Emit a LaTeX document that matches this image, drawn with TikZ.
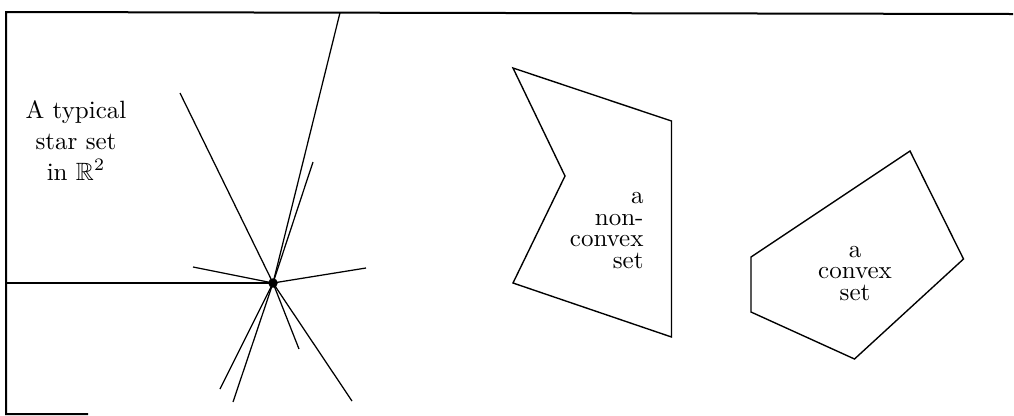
\documentclass[tikz,border=0pt]{standalone}
\usepackage{amssymb}
\begin{document}
\begin{tikzpicture}[x=0.4pt,y=-0.4pt,
  ray/.style={line width=0.5pt},
  frame/.style={line width=0.8pt},
  poly/.style={line width=0.55pt, line join=miter},
  dotnode/.style={circle, fill=black, inner sep=0pt, minimum size=3.8pt},
  lbl/.style={inner sep=0pt, font=\fontsize{10}{8.6}\selectfont}]
\useasboundingbox (0,0) rectangle (1014,415);
% frame
\coordinate (tl) at (6,12);
\coordinate (tr) at (1013,14);
\coordinate (bl) at (6,414);
\coordinate (br) at (88,414);
\draw[frame] (tr) -- (tl) -- (bl) -- (br);
% star set
\node[dotnode] (c) at (273,283) {};
\coordinate (L) at (6,283);
\coordinate (r1) at (340,12.7);
\coordinate (r2) at (180,93);
\coordinate (r3) at (313,162);
\coordinate (r4) at (193,267);
\coordinate (r5) at (366,268);
\coordinate (r6) at (299,349);
\coordinate (r7) at (220,389);
\coordinate (r8) at (233,402);
\coordinate (r9) at (352,401);
\draw[frame] (L) -- (c.center);
\foreach \r in {r1,r2,r3,r4,r5,r6,r7,r8,r9}
  \draw[ray] (c.center) -- (\r);
\node[inner sep=0pt, align=center, anchor=base, font=\fontsize{10}{12.4}\selectfont] (startxt) at (76,180)
  {A typical\\star set\\in $\mathbb{R}^2$};
% non-convex set
\coordinate (n1) at (513,68);
\coordinate (n2) at (671.5,121);
\coordinate (n3) at (671.5,337);
\coordinate (n4) at (513,283);
\coordinate (n5) at (565,176);
\draw[poly] (n1) -- (n2) -- (n3) -- (n4) -- (n5) -- cycle;
\node[lbl, align=right, anchor=base east] (nctxt) at (644,268.3) {a\\non-\\convex\\set};
% convex set
\coordinate (v1) at (751,257);
\coordinate (v2) at (910,151);
\coordinate (v3) at (963.5,259);
\coordinate (v4) at (854.5,359);
\coordinate (v5) at (751,312);
\draw[poly] (v1) -- (v2) -- (v3) -- (v4) -- (v5) -- cycle;
\node[lbl, align=center, anchor=base] (ctxt) at (855,300) {a\\convex\\set};
\end{tikzpicture}
\end{document}
